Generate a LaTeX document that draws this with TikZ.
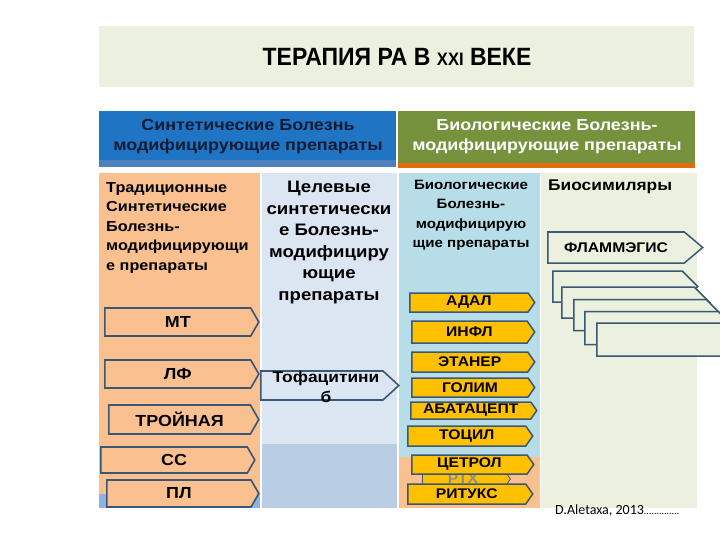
\documentclass[tikz,border=0pt]{standalone}
\usepackage{fontspec}
\setmainfont{Liberation Sans}[FakeStretch=1.12]
\newfontfamily\titlefont{Liberation Sans}[FakeStretch=0.92]
\newfontfamily\notefont{Carlito}
\usetikzlibrary{shapes.symbols}
\definecolor{titlebg}{HTML}{EBF1DE}
\definecolor{hdrblue}{HTML}{1F74C4}
\definecolor{stripblue}{HTML}{4F80BE}
\definecolor{hdrtext}{HTML}{0F1C33}
\definecolor{hdrgreen}{HTML}{76923C}
\definecolor{stripor}{HTML}{E46C0A}
\definecolor{peach}{HTML}{FAC090}
\definecolor{paleblue}{HTML}{DCE6F2}
\definecolor{greyblue}{HTML}{B9CDE5}
\definecolor{lowblue}{HTML}{8DB3E2}
\definecolor{skyblue}{HTML}{B7DEE8}
\definecolor{palegreen}{HTML}{EBF1DE}
\definecolor{gold}{HTML}{FFC000}
\definecolor{arrowline}{HTML}{3A5775}
\tikzset{
    drug/.style={shape=signal, signal to=east, signal pointer angle=120, draw=arrowline,
        line width=1.6pt, fill=peach, inner sep=0pt, anchor=west,
        font=\bfseries\fontsize{16}{16}\selectfont},
    biodrug/.style={drug, fill=gold, signal pointer angle=110, line width=1.5pt,
        font=\bfseries\fontsize{14}{14}\selectfont},
    simil/.style={drug, fill=palegreen, signal pointer angle=90, line width=1.5pt,
        font=\bfseries\fontsize{14}{14}\selectfont},
    heading/.style={inner sep=0pt, font=\bfseries\fontsize{#1}{#1}\selectfont}
}
\begin{document}
\begin{tikzpicture}[x=1pt,y=-1pt]
            \useasboundingbox (0,0) rectangle (720,540);
            \fill [color=titlebg] (99,26)--(694,26)--(694,87)--(99,87)--cycle;
            \node (title) at (397,57) {\titlefont\bfseries\fontsize{25}{25}\selectfont ТЕРАПИЯ РА В {\fontsize{18}{18}\selectfont XXI} ВЕКЕ};

            \fill [color=hdrblue] (99,111)--(396,111)--(396,160)--(99,160)--cycle;
            \fill [color=stripblue] (99,160)--(396,160)--(396,167)--(99,167)--cycle;
            \fill [color=hdrgreen] (398,111)--(695,111)--(695,163)--(398,163)--cycle;
            \fill [color=stripor] (398,163)--(695,163)--(695,168)--(398,168)--cycle;
            \node [heading=16, align=center, text=hdrtext, font=\bfseries\fontsize{16}{20}\selectfont] (synhead) at (248,137) {Синтетические Болезнь\\модифицирующие препараты};
            \node [heading=16, align=center, text=white, font=\bfseries\fontsize{16}{20}\selectfont] (biohead) at (547,137) {Биологические Болезнь-\\модифицирующие препараты};

            \fill [color=peach] (99,173)--(260,173)--(260,494)--(99,494)--cycle;
            \fill [color=lowblue] (99,494)--(260,494)--(260,508)--(99,508)--cycle;
            \fill [color=paleblue] (262,173)--(397,173)--(397,444)--(262,444)--cycle;
            \fill [color=greyblue] (262,444)--(397,444)--(397,508)--(262,508)--cycle;
            \fill [color=skyblue] (399,173)--(540,173)--(540,457)--(399,457)--cycle;
            \fill [color=peach] (399,457)--(540,457)--(540,508)--(399,508)--cycle;
            \fill [color=palegreen] (541,173)--(697,173)--(697,508)--(541,508)--cycle;

            \node [heading=14, anchor=north west, align=left, font=\bfseries\fontsize{14.5}{19.5}\selectfont] (tradhead) at (106,182) {Традиционные\\Синтетические\\Болезнь-\\модифицирующи\\е препараты};
            \node [heading=16, anchor=north, align=center, font=\bfseries\fontsize{16.6}{21.5}\selectfont] (targhead) at (329,181) {Целевые\\синтетически\\е Болезнь-\\модифициру\\ющие\\препараты};
            \node [heading=13, anchor=north, align=center, font=\bfseries\fontsize{13.5}{19.5}\selectfont] (bhead) at (471,180) {Биологические\\Болезнь-\\модифицирую\\щие препараты};
            \node [heading=15.5, anchor=west] (simhead) at (548,187) {Биосимиляры};

            \node [drug, minimum width=154, minimum height=28] (mt) at (104,322) {МТ};
            \node [drug, minimum width=154, minimum height=28] (lf) at (104,374) {ЛФ};
            \node [drug, minimum width=150, minimum height=29] (troin) at (108,419.5) {ТРОЙНАЯ};
            \node [drug, minimum width=154, minimum height=26] (ss) at (100,460) {СС};
            \node [drug, minimum width=152, minimum height=27] (pl) at (106,493.5) {ПЛ};

            \node [drug, fill=paleblue, signal pointer angle=85, minimum width=138, minimum height=29] (tofa) at (260,385.5) {};
            \node [heading=15.5, anchor=north, align=center, font=\bfseries\fontsize{15.5}{20}\selectfont] (tofatxt) at (326,371) {Тофацитини\\б};

            \node [biodrug, minimum width=125, minimum height=19] (adal) at (409,302.5) {АДАЛ};
            \node [biodrug, minimum width=123, minimum height=22] (infl) at (411,332) {ИНФЛ};
            \node [biodrug, minimum width=123, minimum height=20] (etaner) at (411,362) {ЭТАНЕР};
            \node [biodrug, minimum width=123, minimum height=19] (golim) at (411,387.5) {ГОЛИМ};
            \node [biodrug, minimum width=126, minimum height=17] (abatacept) at (410,410.5) {АБАТАЦЕПТ};
            \node [biodrug, minimum width=125, minimum height=20] (tocil) at (407,436) {ТОЦИЛ};
            \node [biodrug, text=black!45, line width=0.8pt, minimum width=88, minimum height=20] (rtx) at (422,479) {РТХ};
            \node [biodrug, minimum width=122, minimum height=19] (cetrol) at (411,464.5) {ЦЕТРОЛ};
            \node [biodrug, minimum width=125, minimum height=20] (rituks) at (407,494) {РИТУКС};

            \node [simil, signal pointer angle=80, minimum width=155, minimum height=31] (flamm) at (547,247.5) {ФЛАММЭГИС};
            \node [simil, minimum width=145, minimum height=31] (simone) at (552,286.5) {};
            \node [simil, minimum width=148, minimum height=31] (simtwo) at (561,302.5) {};
            \node [simil, minimum width=148, minimum height=31] (simthree) at (573,315) {};
            \node [simil, minimum width=150, minimum height=33] (simfour) at (584,328) {};
            \node [simil, minimum width=150, minimum height=33] (simfive) at (596,339.5) {};

            \node [anchor=base west, inner sep=0pt] (source) at (555,514) {\notefont\fontsize{14}{14}\selectfont D.Aletaxa, 2013{\fontsize{10}{10}\selectfont..............}};
\end{tikzpicture}
\end{document}
